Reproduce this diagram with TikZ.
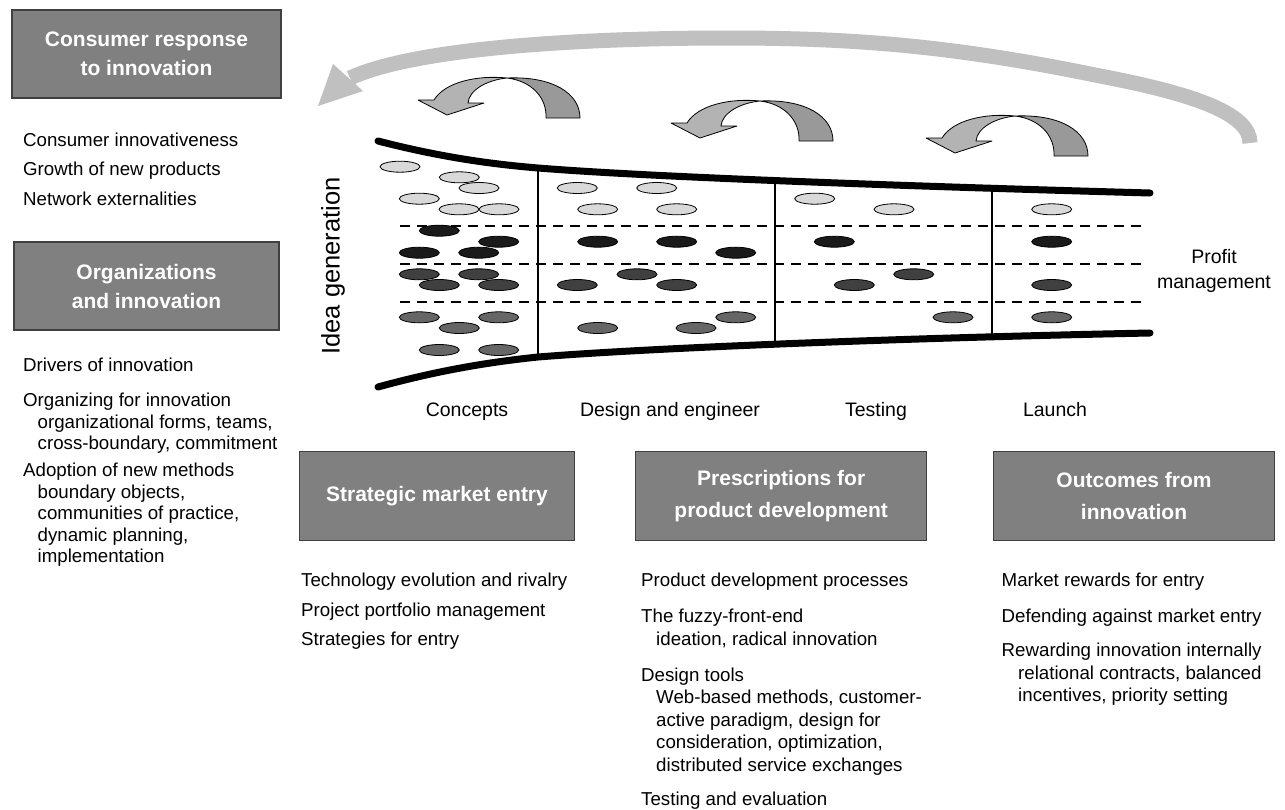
\documentclass[tikz,border=0pt]{standalone}
\usepackage{fontspec}
\setmainfont{Liberation Sans}
\definecolor{boxgray}{HTML}{808080}
\definecolor{boxedge}{HTML}{404040}
\definecolor{bigarr}{HTML}{C0C0C0}
\definecolor{arrlight}{HTML}{B3B3B3}
\definecolor{arrdark}{HTML}{999999}
\definecolor{elLight}{HTML}{D9D9D9}
\definecolor{elBlack}{HTML}{1A1A1A}
\definecolor{elDark}{HTML}{404040}
\definecolor{elMed}{HTML}{666666}
\begin{document}
\begin{tikzpicture}[x=1pt,y=-1pt,
  item/.style={anchor=base west, inner sep=0pt, font=\fontsize{18.7}{22}\selectfont},
  stage/.style={anchor=base, inner sep=0pt, font=\fontsize{19.5}{23}\selectfont},
  ttl/.style={draw=boxedge, fill=boxgray, line width=1.3pt, text=white, align=center, inner sep=0pt,
    font=\fontsize{21}{29}\selectfont\bfseries},
  ttlb/.style={ttl, font=\fontsize{21}{32}\selectfont\bfseries},
  funnel/.style={line width=7pt, line cap=round},
  divider/.style={line width=2pt},
  sep/.style={line width=2pt, dash pattern=on 10pt off 7pt},
  bean/.style={draw=black, line width=0.8pt},
  ribbon/.style={draw=black, line width=0.8pt, line join=round}
]
\useasboundingbox (0,0) rectangle (1285,809);
\fill[white] (0,0) rectangle (1285,809);

% big feedback arrow
\draw[bigarr, line width=15pt] (1250,143) .. controls (1250,115) and (1200,95) .. (1100,76)
  .. controls (950,45) and (850,38) .. (728,38)
  .. controls (580,38) and (415,48) .. (350,78);
\fill[bigarr] (333,64) -- (318,106) -- (363,91) -- cycle;

% ribbon arrows
\foreach \tx/\ty in {507/78, 760/101, 1015/116}{
  \begin{scope}[shift={(\tx,\ty)}]
    \filldraw[ribbon, fill=arrdark] (0,0) .. controls (45,-2) and (73,15) .. (73,40) -- (39,40)
      .. controls (40,20) and (25,3) .. (0,0) -- cycle;
    \filldraw[ribbon, fill=arrlight] (0,0) .. controls (-30,-3) and (-62,4) .. (-73,22) -- (-89,22)
      -- (-60,37) -- (-23,25) -- (-39,25) .. controls (-38,12) and (-20,2) .. (0,0) -- cycle;
  \end{scope}
}

% funnel
\coordinate (tA) at (378,141); \coordinate (tB) at (538,168); \coordinate (tC) at (1150,193);
\coordinate (bA) at (378,387); \coordinate (bB) at (538,357); \coordinate (bC) at (1150,333);
\draw[funnel] (tA) .. controls (440,157) and (490,164) .. (tB) .. controls (650,177) and (900,186) .. (tC);
\draw[funnel] (bA) .. controls (440,370) and (490,362) .. (bB) .. controls (650,348) and (900,338) .. (bC);
\draw[divider] (538,168) -- (538,357);
\draw[divider] (775,181.5) -- (775,344);
\draw[divider] (992,188.5) -- (992,338.5);
\foreach \y in {226,264,302}{
  \draw[sep] (400,\y) -- (1147,\y);
}

% beans
\foreach \p in {(400,166.7),(459.3,177.3),(479,188),(419.3,198.7),(459,209.3),(499,209.3),(577.3,188),(656.7,188),(597.7,209.3),(676.7,209.3),(814.7,198.7),(894,209.3),(1051.7,209.3)}
  \filldraw[bean, fill=elLight] \p ellipse [x radius=20pt, y radius=5.5pt];
\foreach \p in {(439.3,230.7),(498.7,241.7),(419.3,252.7),(478.7,252.7),(597.7,241.7),(676.7,241.7),(735.7,252.7),(834.3,241.7),(1051.7,241.7)}
  \filldraw[bean, fill=elBlack] \p ellipse [x radius=20pt, y radius=5.5pt];
\foreach \p in {(419.3,274.3),(478.7,274.3),(439.3,285),(498.7,285),(637,274.3),(577.3,285),(676.7,285),(913.7,274.3),(854.3,285),(1051.7,285)}
  \filldraw[bean, fill=elDark] \p ellipse [x radius=20pt, y radius=5.5pt];
\foreach \p in {(419.3,317.3),(498.7,317.3),(459.3,328),(439.3,350),(498.7,350),(597.7,328),(696,328),(735.7,317.3),(953,317.3),(1051.7,317.3)}
  \filldraw[bean, fill=elMed] \p ellipse [x radius=20pt, y radius=5.5pt];

% funnel labels
\node[rotate=90, inner sep=0pt, font=\fontsize{25.5}{30}\selectfont] (idea) at (333,266) {Idea generation};
\node[align=center, inner sep=0pt, font=\fontsize{19.5}{25}\selectfont] (profit) at (1214,271) {Profit\\management};
\node[stage] (concepts) at (467,416) {Concepts};
\node[stage] (design) at (670,416) {Design and engineer};
\node[stage] (testing) at (876,416) {Testing};
\node[stage] (launch) at (1055,416) {Launch};

% category boxes
\node[ttl, minimum width=269pt, minimum height=88pt] (cons) at (146.5,54) {Consumer response\\to innovation};
\node[ttl, minimum width=265pt, minimum height=88pt] (org) at (146.5,286) {Organizations\\and innovation};
\node[ttlb, minimum width=275pt, minimum height=89pt] (strat) at (437,496.2) {Strategic market entry};
\node[ttlb, minimum width=291pt, minimum height=89pt] (presc) at (781.2,496.2) {Prescriptions for\\product development};
\node[ttlb, minimum width=281pt, minimum height=89pt] (outc) at (1134,496.2) {Outcomes from\\innovation};

% lists
\foreach \x/\y/\t [count=\i] in {23/146.5/Consumer innovativeness, 23/175.5/Growth of new products, 23/205.5/Network externalities}
  \node[item] (ca\i) at (\x,\y) {\t};
\foreach \x/\y/\t [count=\i] in {23/371.5/Drivers of innovation, 23/406.5/Organizing for innovation,
  37.5/428/{organizational forms, teams,}, 37.5/449.5/{cross-boundary, commitment},
  23/476.5/Adoption of new methods, 37.5/498/{boundary objects,}, 37.5/519.5/{communities of practice,},
  37.5/541/{dynamic planning,}, 37.5/562.5/implementation}
  \node[item] (oa\i) at (\x,\y) {\t};
\foreach \x/\y/\t [count=\i] in {301/586.5/Technology evolution and rivalry, 301/616.5/Project portfolio management, 301/645.5/Strategies for entry}
  \node[item] (sa\i) at (\x,\y) {\t};
\foreach \x/\y/\t [count=\i] in {641/586.5/Product development processes, 641/622.5/The fuzzy-front-end,
  656/645/{ideation, radical innovation}, 641/681/Design tools, 656/703.5/{Web-based methods, customer-},
  656/726/{active paradigm, design for}, 656/748.5/{consideration, optimization,},
  656/771/distributed service exchanges, 641/805.5/Testing and evaluation}
  \node[item] (pa\i) at (\x,\y) {\t};
\foreach \x/\y/\t [count=\i] in {1001.5/586.5/Market rewards for entry, 1001.5/622.5/Defending against market entry,
  1001.5/656.5/Rewarding innovation internally, 1018/679/{relational contracts, balanced},
  1018/701.5/{incentives, priority setting}}
  \node[item] (oc\i) at (\x,\y) {\t};
\end{tikzpicture}
\end{document}
